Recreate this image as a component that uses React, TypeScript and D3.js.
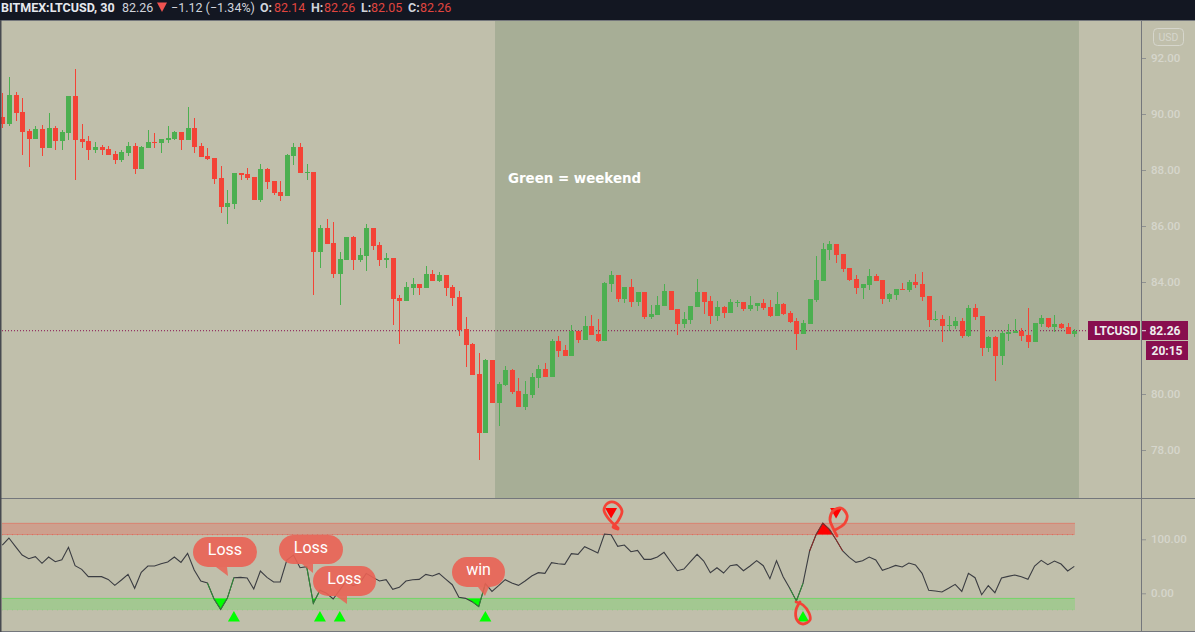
import { useEffect, useRef } from 'react';
import * as d3 from 'd3';

const opens = [
  89.89,89.65,90.68,90.07,89.39,89.12,89.46,88.80,89.50,89.05,
  89.33,90.64,89.11,89.04,88.73,88.82,88.75,88.57,88.37,88.62,
  88.86,88.05,88.80,89.00,88.98,89.08,89.12,89.36,89.08,89.50,
  88.86,88.50,88.43,87.71,86.69,86.80,87.89,87.86,87.75,86.94,
  88.04,87.61,87.21,87.08,88.51,88.82,87.90,87.93,85.08,85.93,
  85.39,84.30,84.80,85.61,84.80,84.94,85.93,85.32,84.80,84.86,
  83.43,83.33,83.80,83.93,83.80,84.29,84.04,84.25,83.82,83.46,
  82.32,81.79,80.71,78.62,81.21,79.69,80.33,80.86,80.11,79.55,
  79.98,80.58,80.89,80.62,81.89,81.57,81.37,82.25,81.94,82.43,
  82.14,81.90,83.94,84.25,83.41,83.82,83.30,83.64,82.76,82.83,
  83.16,83.68,83.04,82.51,82.65,83.12,83.64,83.32,82.80,83.11,
  82.90,83.26,83.29,83.04,83.16,83.25,83.11,82.80,83.21,82.89,
  82.61,82.15,82.51,83.37,84.05,85.15,85.36,85.00,84.50,84.11,
  83.80,83.90,84.21,84.07,83.40,83.55,83.75,83.73,84.00,83.93,
  83.50,82.65,82.68,82.44,82.43,82.61,82.08,83.07,82.79,81.65,
  82.04,81.37,82.15,82.19,82.25,82.11,81.87,82.51,82.71,82.40,
  82.50,82.39,82.15,
];
const highs = [
  90.75,91.32,90.79,90.57,89.46,89.57,89.61,90.04,89.57,89.43,
  90.64,91.61,89.64,89.21,89.00,88.89,88.86,88.68,88.71,89.00,
  88.96,88.86,89.43,89.32,89.11,89.57,89.39,89.36,90.25,89.86,
  88.96,88.79,88.43,88.14,87.29,87.89,87.89,88.07,87.75,88.21,
  88.07,87.61,87.61,88.57,88.96,88.96,88.21,87.93,86.04,86.25,
  86.14,85.07,85.61,85.64,85.21,86.07,85.93,85.43,85.04,84.86,
  83.54,84.00,84.14,83.93,84.57,84.43,84.36,84.25,83.89,83.68,
  82.75,81.82,81.46,81.25,81.21,80.43,81.00,80.89,80.57,80.46,
  80.75,81.04,81.11,81.96,82.07,81.75,82.46,82.25,82.79,82.82,
  82.68,84.00,84.39,84.25,83.82,84.11,83.64,83.64,83.18,83.50,
  83.93,83.68,83.04,82.93,83.14,84.11,83.64,83.50,83.32,83.14,
  83.39,83.36,83.29,83.50,83.25,83.39,83.36,83.64,83.25,82.96,
  82.71,82.64,83.39,84.93,85.39,85.46,85.36,85.00,84.50,84.25,
  83.93,84.46,84.29,84.07,83.61,83.75,83.96,84.07,84.29,84.36,
  83.50,82.96,82.82,82.79,82.75,82.71,83.18,83.21,82.79,82.07,
  82.07,82.25,82.50,82.68,82.36,83.07,82.54,82.82,82.71,82.82,
  82.54,82.54,82.32,
];
const lows = [
  89.51,89.58,89.76,88.55,88.12,89.12,88.51,88.80,88.73,88.73,
  89.08,87.65,88.80,88.37,88.62,88.55,88.55,88.23,88.30,88.51,
  87.87,88.05,88.80,88.80,88.62,88.98,89.08,88.73,89.08,88.62,
  88.48,88.37,87.51,86.48,86.08,86.62,87.65,87.65,86.94,86.87,
  87.33,87.12,86.90,87.08,88.19,87.90,87.65,83.55,84.51,85.37,
  84.16,83.19,84.80,84.44,84.73,84.40,85.16,84.58,84.51,82.48,
  81.80,83.33,83.55,83.55,83.80,84.05,84.00,83.51,83.16,82.08,
  80.98,80.69,77.66,78.62,79.69,78.87,80.30,80.01,79.55,79.44,
  79.87,80.23,80.62,80.62,81.33,81.37,81.37,81.83,81.94,82.12,
  81.87,81.90,83.65,83.30,83.26,83.12,83.16,82.69,82.69,82.83,
  83.16,83.01,82.12,82.37,82.51,83.12,82.87,82.51,82.62,82.73,
  82.90,83.12,82.98,82.98,82.98,83.01,82.76,82.80,82.82,82.55,
  81.58,82.15,82.51,83.30,84.05,84.80,84.69,84.37,84.05,83.58,
  83.40,83.73,84.05,83.23,83.30,83.37,83.73,83.65,83.80,83.33,
  82.40,82.62,81.87,82.26,82.32,82.01,82.05,82.65,81.37,81.51,
  80.48,81.05,81.90,82.19,81.90,81.65,81.87,82.40,82.37,82.23,
  82.33,82.15,82.05,
];
const closes = [
  89.65,90.68,90.05,89.37,89.11,89.46,88.80,89.50,89.05,89.36,
  90.64,89.08,89.01,88.73,88.82,88.73,88.55,88.37,88.64,88.86,
  88.05,88.82,89.00,88.98,89.11,89.14,89.36,89.08,89.50,88.83,
  88.48,88.40,87.69,86.69,86.82,87.89,87.83,87.73,86.94,88.04,
  87.58,87.19,87.08,88.54,88.82,87.90,87.93,85.08,85.93,85.37,
  84.30,84.82,85.61,84.80,84.96,85.93,85.30,84.80,84.86,83.41,
  83.33,83.82,83.93,83.80,84.29,84.05,84.25,83.80,83.44,82.30,
  81.76,80.69,78.62,81.21,79.69,80.36,80.86,80.08,79.55,80.00,
  80.61,80.89,80.62,81.89,81.55,81.37,82.25,81.94,82.43,82.12,
  81.89,83.96,84.25,83.41,83.82,83.30,83.64,82.76,82.86,83.18,
  83.68,83.01,82.51,82.68,83.14,83.64,83.30,82.80,83.11,82.90,
  83.29,83.29,83.04,83.18,83.25,83.07,82.80,83.21,82.86,82.58,
  82.15,82.54,83.39,84.07,85.18,85.36,84.98,84.48,84.08,83.80,
  83.93,84.21,84.05,83.40,83.57,83.75,83.73,84.00,83.90,83.48,
  82.65,82.68,82.44,82.46,82.61,82.08,83.07,82.76,81.65,82.04,
  81.37,82.18,82.21,82.25,82.08,81.87,82.54,82.71,82.40,82.50,
  82.37,82.15,82.25,
];
const oscillator = [
  89.4,102.4,86.3,70.9,64.1,67.8,55.5,67.2,58.5,62.2,
  85.1,51.1,44.3,30.8,30.8,30.8,25.8,14.7,24.6,35.1,
  9.2,38.8,50.5,50.5,54.8,57.9,67.2,57.3,74,43.1,
  22.7,19,-10.6,-29.7,-9.4,28.9,29.5,28.3,7.9,41.3,
  29.5,20.9,20.9,61.6,70.9,47.4,49.3,-18.6,5.5,0,
  -10.6,6.1,23.4,14.1,18.4,36.9,29.5,22.7,25.2,7.3,
  11,22.7,25.2,25.8,35.1,32,36.9,26.4,15.9,-7.5,
  -9.4,-15.5,-24.8,17.8,3.6,14.1,25.2,19,14.7,22.7,
  32,38.2,36.9,56.7,54.8,53.6,73.4,72.1,86.3,80.8,
  74.6,109.8,108.5,86.9,89.4,77.1,79.5,62.9,62.9,67.2,
  75.8,58.5,41.9,45,58.5,72.1,59.8,38.2,47.4,37.6,
  51.1,53,41.9,50.5,60.4,51.1,27.1,60.4,30.8,9.2,
  -14.3,18.4,78.3,109.2,130.1,118.4,99.3,78.3,66.6,57.3,
  60.4,67.2,61.6,42.5,46.8,51.7,48.7,56.1,52.4,36.9,
  5.5,4.2,2.4,9.2,16.6,3.6,36.9,28.9,-2.6,14.1,
  1.1,28.3,31.4,33.8,30.8,25.8,50.5,61,53,59.8,
  54.2,41.3,49.9,
];

// 82.00 sits behind the last price tag, so it is left out
const priceTicks = [78, 80, 84, 86, 88, 90, 92];
const oscTicks = [0, 100];
const upperBand = [108.5, 129.6];
const lowerBand = [-31, -9.3];
const weekend = [74.46, 162.7];
const buySignals = [35, 48, 51, 73, 121];
const sellSignals = [92, 126];
const greenRuns = [[31, 35], [46, 48], [71, 73], [119, 121]];
const redRuns = [[122, 127]];
const lastPrice = 82.26;

const header = [
  { text: 'BITMEX:LTCUSD, 30', x: 1, color: '#e6e8ee', weight: 700 },
  { text: '82.26', x: 122, color: '#d1d4dc', weight: 400 },
  { text: '\u22121.12 (\u22121.34%)', x: 171, color: '#d1d4dc', weight: 400 },
  { text: 'O:', x: 260, color: '#d1d4dc', weight: 700 },
  { text: '82.14', x: 274, color: '#e0453f', weight: 400 },
  { text: 'H:', x: 311, color: '#d1d4dc', weight: 700 },
  { text: '82.26', x: 324, color: '#e0453f', weight: 400 },
  { text: 'L:', x: 361, color: '#d1d4dc', weight: 700 },
  { text: '82.05', x: 371, color: '#e0453f', weight: 400 },
  { text: 'C:', x: 408, color: '#d1d4dc', weight: 700 },
  { text: '82.26', x: 420, color: '#e0453f', weight: 400 },
];

const bubbles = [
  { text: 'Loss', x0: 193, x1: 257, y0: 537, y1: 567, base: 216, tip: [228, 576], dy: 18 },
  { text: 'Loss', x0: 279, x1: 343, y0: 535, y1: 564, base: 302, tip: [313, 573], dy: 18 },
  { text: 'Loss', x0: 313, x1: 376, y0: 566, y1: 596, base: 336, tip: [347, 604], dy: 18 },
  { text: 'win', x0: 452, x1: 505, y0: 557, y1: 587, base: 478, tip: [485, 596], dy: 18 },
];

const scribbles = [
  [[618, 528], [608, 518], [604, 510], [608, 503], [616, 503], [622, 511], [618, 521], [613, 527], [618, 529]],
  [[837, 536], [833, 528], [830, 520], [833, 511], [841, 508], [847, 515], [845, 523], [835, 530]],
  [[796, 602], [803, 605], [809, 613], [810, 620], [803, 624], [797, 620], [796, 610], [800, 602]],
];

const W = 1195;
const H = 632;
const FONT = 'Roboto, sans-serif';

const App = () => {
  const svgRef = useRef<SVGSVGElement>(null);

  useEffect(() => {
    if (!svgRef.current) return;
    const svg = d3.select(svgRef.current);
    svg.selectAll('*').remove();

    const x = d3.scaleLinear().domain([0, 162]).range([2.3, 1074.3]);
    const y = d3.scaleLinear().domain([78, 92]).range([450, 58]);
    const o = d3.scaleLinear().domain([0, 100]).range([593.3, 539.3]);
    const axisX = 1141;

    svg.append('rect').attr('width', W).attr('height', H).attr('fill', '#c0bfab');

    // weekend shading
    svg.append('rect')
      .attr('x', x(weekend[0])).attr('y', 21)
      .attr('width', x(weekend[1]) - x(weekend[0])).attr('height', 477)
      .attr('fill', '#a7ae96');

    svg.append('text')
      .attr('x', 508).attr('y', 183)
      .attr('font-family', '"DejaVu Sans", sans-serif').attr('font-weight', 700).attr('font-size', 13.4)
      .attr('fill', '#fff').text('Green = weekend');

    // last price line
    svg.append('line')
      .attr('x1', 2).attr('x2', axisX)
      .attr('y1', y(lastPrice)).attr('y2', y(lastPrice))
      .attr('stroke', '#880e4f').attr('stroke-dasharray', '1 2');

    // candles
    const candles = d3.range(opens.length).map(i => ({
      i, open: opens[i], high: highs[i], low: lows[i], close: closes[i],
    }));
    const color = (d: { open: number; close: number }) => (d.close < d.open ? '#f44336' : '#4caf50');
    const candle = svg.append('g').attr('shape-rendering', 'crispEdges')
      .selectAll('g').data(candles).enter().append('g');
    candle.append('rect')
      .attr('x', d => Math.round(x(d.i)) - 0.5).attr('width', 1)
      .attr('y', d => y(d.high)).attr('height', d => y(d.low) - y(d.high))
      .attr('fill', color);
    candle.append('rect')
      .attr('x', d => Math.round(x(d.i)) - 2.5).attr('width', 5)
      .attr('y', d => y(Math.max(d.open, d.close)))
      .attr('height', d => Math.max(1, Math.abs(y(d.open) - y(d.close))))
      .attr('fill', color);

    // oscillator bands
    const bandEnd = 1075;
    const band = (b: number[], fill: string, stroke: string) => {
      svg.append('rect')
        .attr('x', 2).attr('width', bandEnd - 2)
        .attr('y', o(b[1])).attr('height', o(b[0]) - o(b[1]))
        .attr('fill', fill);
      svg.append('line').attr('x1', 2).attr('x2', bandEnd)
        .attr('y1', o(b[1])).attr('y2', o(b[1])).attr('stroke', stroke);
      svg.append('line').attr('x1', 2).attr('x2', bandEnd)
        .attr('y1', o(b[0])).attr('y2', o(b[0])).attr('stroke', stroke)
        .attr('stroke-dasharray', '1 4');
    };
    band(upperBand, 'rgba(244,67,54,0.25)', 'rgba(244,67,54,0.4)');
    band(lowerBand, 'rgba(0,255,0,0.15)', 'rgba(0,230,0,0.16)');

    // filled excursions past the bands
    const defs = svg.append('defs');
    defs.append('clipPath').attr('id', 'above')
      .append('rect').attr('x', 0).attr('width', W).attr('y', 490).attr('height', o(upperBand[0]) - 490);
    defs.append('clipPath').attr('id', 'below')
      .append('rect').attr('x', 0).attr('width', W).attr('y', o(lowerBand[1])).attr('height', 60);
    const fillArea = (bound: number) => d3.area<number>()
      .x((_, i) => x(i)).y0(o(bound)).y1(d => o(d));
    svg.append('path').datum(oscillator)
      .attr('d', fillArea(upperBand[0]))
      .attr('clip-path', 'url(#above)').attr('fill', '#ff0000');
    svg.append('path').datum(oscillator)
      .attr('d', fillArea(lowerBand[1]))
      .attr('clip-path', 'url(#below)').attr('fill', '#00ff00');

    const line = d3.line<number>().x((_, i) => x(i)).y(d => o(d));
    svg.append('path').datum(oscillator)
      .attr('d', line).attr('fill', 'none').attr('stroke', '#3b3d42').attr('stroke-width', 1.1);

    const run = (r: number[], stroke: string) => {
      const seg = d3.line<number>().x(i => x(i)).y(i => o(oscillator[i]));
      svg.append('path').datum(d3.range(r[0], r[1] + 1))
        .attr('d', seg).attr('fill', 'none').attr('stroke', stroke).attr('stroke-width', 1);
    };
    greenRuns.forEach(r => run(r, '#2c8f35'));
    redRuns.forEach(r => run(r, '#8f2a25'));

    // signal markers
    const tri = d3.symbol().type(d3.symbolTriangle).size(62);
    svg.append('g').selectAll('path').data(buySignals).enter().append('path')
      .attr('d', tri as any).attr('fill', '#00ff00')
      .attr('transform', d => `translate(${x(d)},618)`);
    svg.append('g').selectAll('path').data(sellSignals).enter().append('path')
      .attr('d', tri as any).attr('fill', '#ff0000')
      .attr('transform', d => `translate(${x(d)},511.5) rotate(180)`);

    // hand drawn rings
    const ring = d3.line().curve(d3.curveCatmullRom);
    scribbles.forEach(s => {
      svg.append('path').attr('d', ring(s as [number, number][]))
        .attr('fill', 'none').attr('stroke', '#f44336').attr('stroke-width', 2.8)
        .attr('stroke-linecap', 'round');
    });

    // speech bubbles
    bubbles.forEach(b => {
      const r = (b.y1 - b.y0) / 2;
      const g = svg.append('g');
      g.append('rect')
        .attr('x', b.x0).attr('y', b.y0).attr('width', b.x1 - b.x0).attr('height', b.y1 - b.y0)
        .attr('rx', r).attr('fill', '#ea6254').attr('fill-opacity', 0.9);
      g.append('path')
        .attr('d', `M${b.base},${b.y1}L${b.tip[0]},${b.tip[1]}L${b.base + 11},${b.y1}Z`)
        .attr('fill', '#ea6254').attr('fill-opacity', 0.85);
      g.append('text')
        .attr('x', (b.x0 + b.x1) / 2).attr('y', b.y0 + b.dy)
        .attr('text-anchor', 'middle')
        .attr('font-family', FONT).attr('font-size', 16)
        .attr('fill', '#fff').text(b.text);
    });

    // frame
    const frame = '#74777c';
    svg.append('rect').attr('width', W).attr('height', 20).attr('fill', '#131722');
    svg.append('line').attr('x1', 0).attr('x2', W).attr('y1', 20.5).attr('y2', 20.5).attr('stroke', frame);
    svg.append('line').attr('x1', 0).attr('x2', W).attr('y1', 498.5).attr('y2', 498.5).attr('stroke', frame);
    svg.append('line').attr('x1', 0).attr('x2', W).attr('y1', 631.5).attr('y2', 631.5).attr('stroke', frame);
    svg.append('line').attr('x1', 0.75).attr('x2', 0.75).attr('y1', 20).attr('y2', H)
      .attr('stroke', '#474a50').attr('stroke-width', 1.5);
    svg.append('line').attr('x1', axisX + 0.5).attr('x2', axisX + 0.5).attr('y1', 20).attr('y2', H).attr('stroke', frame);

    // axes
    const styleAxis = (g: d3.Selection<SVGGElement, unknown, null, undefined>) => {
      g.select('.domain').remove();
      g.selectAll('.tick line').attr('stroke', '#8f9190');
      g.selectAll('.tick text')
        .attr('fill', '#d6d6cc').attr('font-family', FONT)
        .attr('font-size', 11.5).attr('font-weight', 500);
    };
    svg.append('g').attr('transform', `translate(${axisX + 1},0)`)
      .call(d3.axisRight(y).tickValues(priceTicks).tickFormat(d3.format('.2f')).tickSize(4).tickPadding(5) as any)
      .call(styleAxis as any);
    svg.append('g').attr('transform', `translate(${axisX + 1},0)`)
      .call(d3.axisRight(o).tickValues(oscTicks).tickFormat(d3.format('.2f')).tickSize(4).tickPadding(5) as any)
      .call(styleAxis as any);

    // USD badge
    svg.append('rect').attr('x', 1153.5).attr('y', 28.5).attr('width', 30).attr('height', 17).attr('rx', 4)
      .attr('fill', 'none').attr('stroke', '#d6d6cc');
    svg.append('text').attr('x', 1168.5).attr('y', 41).attr('text-anchor', 'middle')
      .attr('font-family', FONT).attr('font-size', 10.5).attr('fill', '#d6d6cc').text('USD');

    // price labels
    const tag = '#880e4f';
    const label = (x0: number, x1: number, y0: number, y1: number, text: string, tx: number) => {
      svg.append('rect').attr('x', x0).attr('y', y0).attr('width', x1 - x0).attr('height', y1 - y0).attr('fill', tag);
      svg.append('text').attr('x', tx).attr('y', (y0 + y1) / 2 + 4.2).attr('text-anchor', 'middle')
        .attr('font-family', FONT).attr('font-size', 12).attr('font-weight', 700)
        .attr('fill', '#eee').text(text);
    };
    label(1088, 1140, 321, 340, 'LTCUSD', 1116);
    label(1142, 1188, 321, 340, '82.26', 1165);
    label(1146, 1188, 341, 360, '20:15', 1167);
    svg.append('line').attr('x1', 1142).attr('x2', 1146)
      .attr('y1', y(lastPrice)).attr('y2', y(lastPrice)).attr('stroke', '#eee');

    // header
    svg.append('g').selectAll('text').data(header).enter().append('text')
      .attr('x', d => d.x).attr('y', 11.8)
      .attr('font-family', FONT).attr('font-size', 12.5)
      .attr('font-weight', d => d.weight).attr('fill', d => d.color)
      .text(d => d.text);
    svg.append('path').attr('d', 'M157,2.5L167,2.5L162,12Z').attr('fill', '#ef5350');
  }, []);

  return (
    <svg
      ref={svgRef}
      width={W}
      height={H}
      style={{ position: 'absolute', left: 0, top: 0, display: 'block' }}
    ></svg>
  );
};

export default App;
